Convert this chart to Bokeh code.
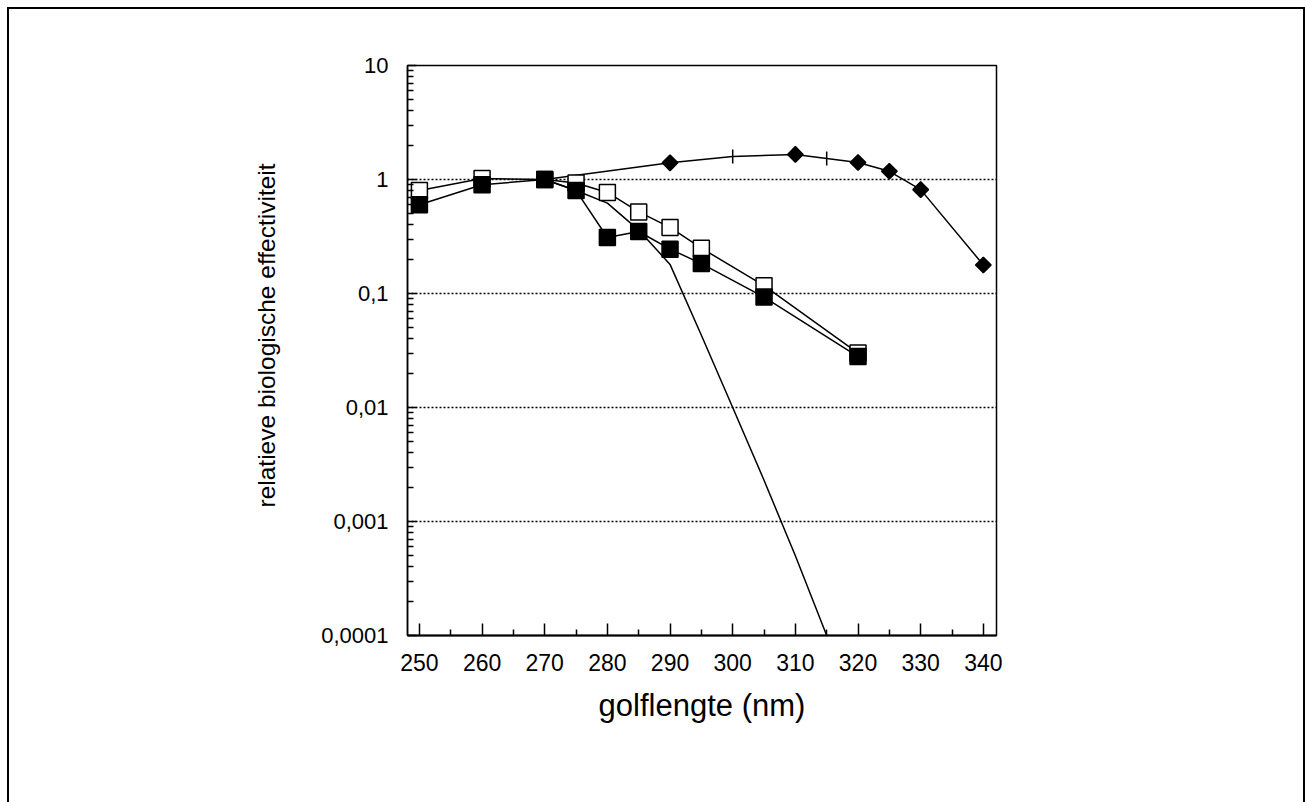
from math import pi
from bokeh.plotting import figure
from bokeh.models import FixedTicker, CustomJSTickFormatter, Range1d, Title
from bokeh.embed import file_html
from bokeh.resources import INLINE

# ---- data ----
x_open = [250, 260, 270, 275, 280, 285, 290, 295, 305, 320]
y_open = [0.80, 1.02, 1.0, 0.93, 0.77, 0.52, 0.38, 0.25, 0.117, 0.030]

x_filled = [250, 260, 270, 275, 280, 285, 290, 295, 305, 320]
y_filled = [0.60, 0.90, 1.0, 0.80, 0.31, 0.35, 0.245, 0.183, 0.093, 0.028]

x_steep = [270, 275, 280, 285, 290, 295, 300, 305, 310, 315]
y_steep = [1.0, 0.80, 0.62, 0.36, 0.18, 0.043, 0.010, 0.0023, 0.0005, 0.0001]

x_upper = [270, 290, 300, 310, 315, 320, 325, 330, 340]
y_upper = [1.0, 1.40, 1.59, 1.66, 1.53, 1.41, 1.18, 0.815, 0.178]
x_diamond = [290, 310, 320, 325, 330, 340]
y_diamond = [1.40, 1.66, 1.41, 1.18, 0.815, 0.178]
x_dash = [300, 315]
y_dash = [1.59, 1.53]

x_ticks = [250, 260, 270, 280, 290, 300, 310, 320, 330, 340]
x_minor = [255, 265, 275, 285, 295, 305, 315, 325, 335]
y_ticks = [0.0001, 0.001, 0.01, 0.1, 1, 10]
y_tick_labels = ["0,0001", "0,001", "0,01", "0,1", "1", "10"]
y_minor = [m * d for d in [0.0001, 0.001, 0.01, 0.1, 1] for m in range(2, 10)]
grid_levels = [0.001, 0.01, 0.1, 1]

x_label = "golflengte (nm)"
y_label = "relatieve biologische effectiviteit"

FONT = "Liberation Sans"

p = figure(width=1298, height=795, y_axis_type="log",
           x_range=Range1d(248.1, 342.1), y_range=Range1d(0.0001, 10),
           output_backend="svg", toolbar_location=None,
           min_border_left=398, min_border_top=56, min_border_right=311, min_border_bottom=169,
           styles={"border-top": "2px solid black", "border-left": "2px solid black",
                   "border-right": "2px solid black",
                   "margin-left": "7px", "margin-top": "7px"})

p.background_fill_color = "white"
p.border_fill_color = "white"
p.outline_line_color = "black"
p.outline_line_width = 1.5

p.xgrid.visible = False
p.ygrid.ticker = FixedTicker(ticks=grid_levels)
p.ygrid.grid_line_color = "black"
p.ygrid.grid_line_width = 1.4
p.ygrid.grid_line_dash = "2 2"

# x axis
p.xaxis.ticker = FixedTicker(ticks=x_ticks, minor_ticks=x_minor)
p.xaxis.major_tick_in = 12
p.xaxis.major_tick_out = 0
p.xaxis.minor_tick_in = 6
p.xaxis.minor_tick_out = 0
p.xaxis.axis_line_width = 2
p.xaxis.major_tick_line_width = 1.5
p.xaxis.minor_tick_line_width = 1.5
p.xaxis.major_label_text_font = FONT
p.xaxis.major_label_text_font_size = "23px"
p.xaxis.major_label_text_color = "black"
p.xaxis.major_label_standoff = 18
p.xaxis.axis_label = x_label
p.xaxis.axis_label_text_font = FONT
p.xaxis.axis_label_text_font_style = "normal"
p.xaxis.axis_label_text_font_size = "31px"
p.xaxis.axis_label_text_color = "black"
p.xaxis.axis_label_standoff = 14

# y axis
p.yaxis.ticker = FixedTicker(ticks=y_ticks, minor_ticks=y_minor)
p.yaxis.formatter = CustomJSTickFormatter(args=dict(vals=y_ticks, labs=y_tick_labels), code="""
const i = vals.findIndex(v => Math.abs(Math.log10(v) - Math.log10(tick)) < 1e-6);
return i >= 0 ? labs[i] : '';
""")
p.yaxis.major_tick_in = 9
p.yaxis.major_tick_out = 0
p.yaxis.minor_tick_in = 6
p.yaxis.minor_tick_out = 0
p.yaxis.axis_line_width = 1.5
p.yaxis.major_tick_line_width = 1.5
p.yaxis.minor_tick_line_width = 1.5
p.yaxis.major_label_text_font = FONT
p.yaxis.major_label_text_font_size = "22px"
p.yaxis.major_label_text_color = "black"
p.yaxis.major_label_standoff = 19

# y axis title, placed a little above the frame centre as in the original
ytitle = Title(text=y_label, align="left", offset=128, standoff=78,
               text_font=FONT, text_font_size="24.5px", text_font_style="normal",
               text_color="black")
p.add_layout(ytitle, "left")

# lines
lw = 1.5
p.line(x_upper, y_upper, line_color="black", line_width=lw)
p.line(x_steep, y_steep, line_color="black", line_width=lw)
p.line(x_open, y_open, line_color="black", line_width=lw)
p.line(x_filled, y_filled, line_color="black", line_width=lw)

# markers
p.scatter(x_open, y_open, marker="square", size=16, fill_color="white",
          line_color="black", line_width=lw)
p.scatter(x_filled, y_filled, marker="square", size=16, fill_color="black",
          line_color="black", line_width=lw)
p.scatter(x_diamond, y_diamond, marker="square", angle=pi / 4, size=11,
          fill_color="black", line_color="black", line_width=lw)
p.scatter(x_dash, y_dash, marker="dash", angle=pi / 2, size=14,
          line_color="black", line_width=lw)

open("out.html", "w").write(file_html(p, INLINE))
